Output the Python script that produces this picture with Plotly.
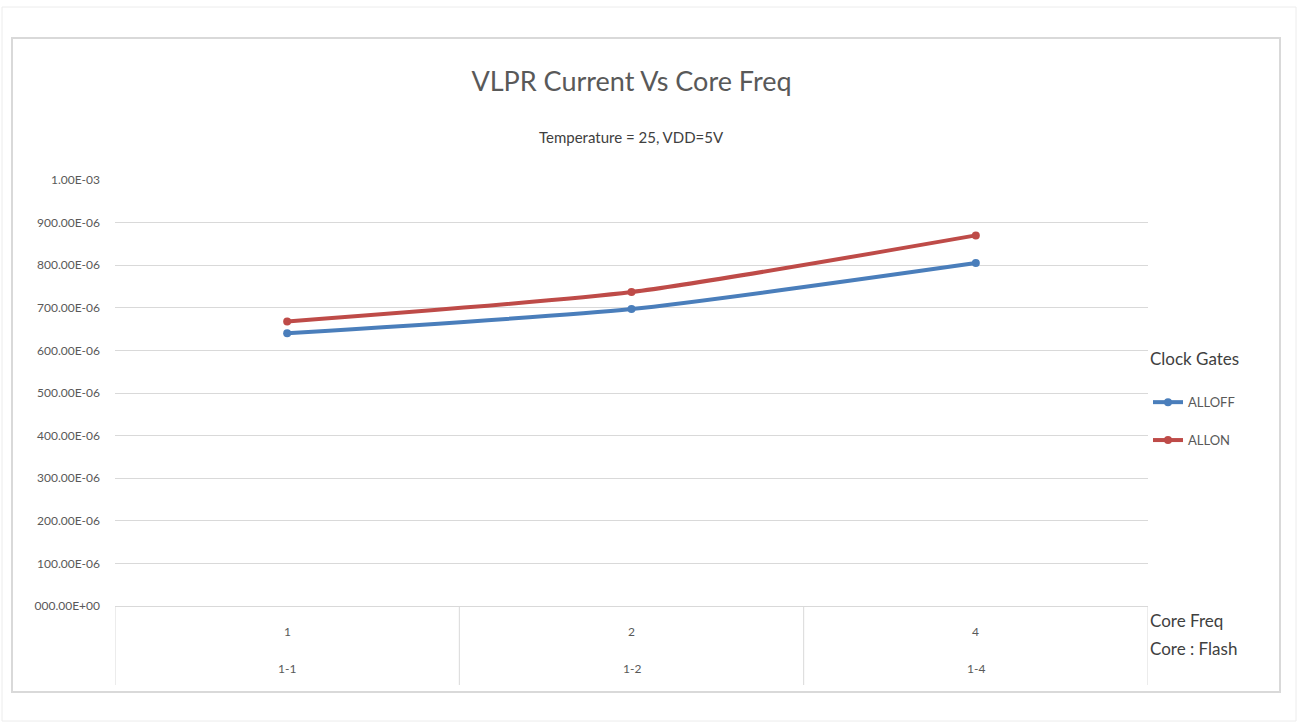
import plotly.graph_objects as go

# ---- data ----
core_freq = ["1", "2", "4"]
core_flash = ["1-1", "1-2", "1-4"]
series_names = ["ALLOFF", "ALLON"]
alloff = [0.640e-3, 0.697e-3, 0.805e-3]
allon = [0.668e-3, 0.737e-3, 0.870e-3]
y_tickvals = [0, 100e-6, 200e-6, 300e-6, 400e-6, 500e-6, 600e-6, 700e-6, 800e-6, 900e-6, 1e-3]
y_ticktext = ["000.00E+00", "100.00E-06", "200.00E-06", "300.00E-06", "400.00E-06",
              "500.00E-06", "600.00E-06", "700.00E-06", "800.00E-06", "900.00E-06", "1.00E-03"]

W, H = 1299, 722
L, R, T, B = 115, 1148, 180, 606
colors = ["#4a7ebb", "#be4b48"]
FONT = "Lato"
txt = "#595959"

def px(x):
    return (x - L) / (R - L)

def py(y):
    return (B - y) / (B - T)

fig = go.Figure()
for i, (name, vals) in enumerate(zip(series_names, [alloff, allon])):
    fig.add_trace(go.Scatter(
        x=list(range(len(core_freq))), y=vals, name=name, mode="lines+markers",
        line=dict(color=colors[i], width=4, shape="spline", smoothing=0.6),
        marker=dict(color=colors[i], size=8, symbol="circle"),
        legendgroup=name,
    ))

shapes = []
shapes.append(dict(type="rect", xref="paper", yref="paper", x0=px(2), x1=px(1296), y0=py(721), y1=py(7),
                   line=dict(color="#ececec", width=1), layer="below"))
shapes.append(dict(type="rect", xref="paper", yref="paper", x0=px(12), x1=px(1280), y0=py(692), y1=py(38),
                   line=dict(color="#d9d9d9", width=2), layer="below"))
for xv in [-0.5, 0.5, 1.5, 2.5]:
    shapes.append(dict(type="line", xref="x", yref="paper", x0=xv, x1=xv, y0=py(685), y1=0,
                       line=dict(color="#d9d9d9", width=1)))

annotations = []
for i, (a, b) in enumerate(zip(core_freq, core_flash)):
    annotations.append(dict(x=i, y=py(631), xref="x", yref="paper", text=a, showarrow=False,
                            yanchor="middle", font=dict(family=FONT, size=12, color=txt)))
    annotations.append(dict(x=i, y=py(668), xref="x", yref="paper", text=b, showarrow=False,
                            yanchor="middle", font=dict(family=FONT, size=12, color=txt)))
annotations.append(dict(x=1.0, y=py(620), xref="paper", yref="paper", text="Core Freq", showarrow=False,
                        xanchor="left", yanchor="middle", font=dict(family=FONT, size=17, color="#404040")))
annotations.append(dict(x=1.0, y=py(648), xref="paper", yref="paper", text="Core : Flash", showarrow=False,
                        xanchor="left", yanchor="middle", font=dict(family=FONT, size=17, color="#404040")))
annotations.append(dict(x=0.5, y=py(137), xref="paper", yref="paper", text="Temperature = 25, VDD=5V",
                        showarrow=False, yanchor="middle", font=dict(family=FONT, size=15, color="#404040")))

fig.update_layout(
    width=W, height=H,
    margin=dict(l=L, r=W - R, t=T, b=H - B),
    paper_bgcolor="white", plot_bgcolor="white",
    title=dict(text="VLPR Current Vs Core Freq", x=0.5, xref="paper", y=1 - 82 / H, yanchor="middle",
               font=dict(family=FONT, size=27, color="#595959")),
    xaxis=dict(range=[-0.5, 2.5], showticklabels=False, showgrid=False, zeroline=False,
               showline=False, ticks=""),
    yaxis=dict(range=[0, 1e-3], tickvals=y_tickvals, ticktext=y_ticktext, showgrid=True,
               gridcolor="#d9d9d9", gridwidth=1, zeroline=True, zerolinecolor="#d9d9d9", zerolinewidth=1,
               showline=False, ticks="", ticklabelstandoff=14,
               tickfont=dict(family=FONT, size=12, color=txt)),
    legend=dict(x=1.0, xanchor="left", y=py(343), yanchor="top", tracegroupgap=18,
                title=dict(text="Clock Gates<br> ", font=dict(family=FONT, size=17, color="#404040")),
                font=dict(family=FONT, size=13, color=txt), itemwidth=30, bgcolor="rgba(0,0,0,0)"),
    shapes=shapes, annotations=annotations,
    showlegend=True,
)

fig.write_html("out.html", config={"displayModeBar": False},
               post_script="document.body.style.margin='0';")
